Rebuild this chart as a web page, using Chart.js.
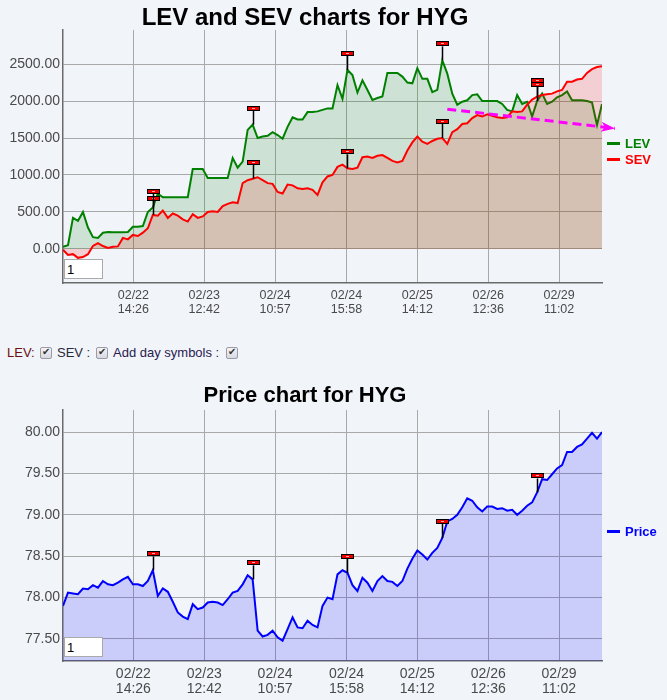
<!DOCTYPE html>
<html>
<head>
<meta charset="utf-8">
<script src="https://cdn.jsdelivr.net/npm/chart.js@4.4.1/dist/chart.umd.min.js"></script>
<style>
  body { margin: 0; background: #f1f4f9; width: 667px; height: 700px; position: relative; overflow: hidden;
         font-family: "Liberation Sans", Arial, sans-serif; }
  .box { position: absolute; left: 0; width: 667px; }
  .leg { position: absolute; left: 607px; font: bold 13px "Liberation Sans", Arial, sans-serif; line-height: 15px; white-space: nowrap; }
  .leg i { display: inline-block; width: 13px; height: 3px; vertical-align: middle; margin: -2px 5px 0 0; }
  .num { position: absolute; left: 64px; width: 35px; height: 18px; border: 1px solid #aaa; background: #fff;
         font: 13px "Liberation Sans", Arial, sans-serif; padding: 0 0 0 2px; box-sizing: content-box; }
  .opt { position: absolute; top: 345px; font: 13px "Liberation Sans", Arial, sans-serif; line-height: 15px; white-space: nowrap; }
  input.cb { position: absolute; top: 347px; width: 12px; height: 12px; margin: 0; appearance: none; -webkit-appearance: none;
             border: 1px solid #9a9aa8; border-radius: 2px; background: linear-gradient(#f4f4f6, #d8d8e0); box-sizing: border-box; }
  input.cb::after { content: "\2714"; position: absolute; left: 1px; top: -2px; font-size: 10px; color: #333; }
</style>
</head>
<body>

<div class="box" style="top:0;height:323px"><canvas id="levChart" width="667" height="323"></canvas></div>
<input class="num" style="top:259px" value="1">
<div class="leg" style="top:136px;color:#008000"><i style="background:#008000"></i>LEV</div>
<div class="leg" style="top:152px;color:#ff0000"><i style="background:#ff0000"></i>SEV</div>

<span class="opt" style="left:7px;color:#6a1010">LEV:</span>
<input type="checkbox" class="cb" style="left:40px" checked>
<span class="opt" style="left:57px;color:#2a2a3a">SEV :</span>
<input type="checkbox" class="cb" style="left:96px" checked>
<span class="opt" style="left:113px;color:#2a2050">Add day symbols :</span>
<input type="checkbox" class="cb" style="left:226px" checked>

<div class="box" style="top:370px;height:330px"><canvas id="priceChart" width="667" height="330"></canvas></div>
<input class="num" style="top:637px" value="1">
<div class="leg" style="top:524px;color:#0000ff"><i style="background:#0000ff"></i>Price</div>

<script>
// データ（サンプル番号ごとの値）
const levValues = [30,50,420,380,500,290,160,150,220,230,
  225,225,225,230,300,300,310,500,560,750,
  700,700,700,700,700,700,1080,1080,1080,960,
  960,960,960,960,1230,1100,1180,1610,1680,1500,
  1520,1530,1580,1540,1490,1650,1780,1750,1750,1850,
  1850,1860,1880,1900,1900,2215,2030,2420,2350,2115,
  2280,2150,2015,2040,2060,2380,2380,2380,2330,2250,
  2240,2445,2300,2300,2120,2150,2550,2370,2100,1950,
  1990,2010,2080,2090,2000,2000,2000,2000,1960,1880,
  1860,2080,1960,1990,1790,2000,2100,1960,1990,2050,
  2080,2130,2010,2010,2010,2000,1980,1675,1960];

const sevValues = [-10,-80,-70,-120,-110,-70,40,80,40,15,
  30,35,150,130,190,175,220,280,460,450,
  520,420,480,450,400,370,470,420,440,500,
  510,500,580,610,630,620,890,930,950,970,
  930,890,880,770,750,870,860,820,810,820,
  800,730,900,980,1000,1110,1140,1090,1080,1100,
  1240,1250,1230,1260,1270,1230,1190,1170,1190,1330,
  1440,1520,1450,1420,1460,1490,1500,1420,1580,1620,
  1690,1700,1770,1810,1790,1820,1800,1780,1770,1780,
  1860,1850,1860,1950,2020,2060,2080,2090,2100,2130,
  2150,2260,2260,2290,2300,2380,2430,2460,2470];

const priceValues = [77.9,78.06,78.05,78.04,78.11,78.1,78.15,78.12,78.2,78.16,
  78.15,78.18,78.22,78.25,78.16,78.16,78.14,78.2,78.33,78.02,
  78.11,78.07,77.95,77.82,77.77,77.74,77.92,77.86,77.88,77.94,
  77.95,77.94,77.91,77.98,78.06,78.08,78.16,78.27,78.22,77.6,
  77.53,77.55,77.6,77.52,77.48,77.62,77.76,77.64,77.63,77.72,
  77.67,77.64,77.9,78.0,77.98,78.28,78.33,78.3,78.15,78.08,
  78.24,78.18,78.08,78.2,78.26,78.2,78.19,78.14,78.2,78.35,
  78.47,78.57,78.52,78.46,78.54,78.6,78.72,78.92,78.95,79.0,
  79.09,79.2,79.17,79.09,79.04,79.1,79.1,79.07,79.08,79.05,
  79.06,79.0,79.05,79.11,79.15,79.27,79.43,79.42,79.49,79.56,
  79.6,79.76,79.76,79.82,79.85,79.92,79.99,79.92,80.0];

// 日の始まり（旗マーク）のサンプル番号
const dayStartIdx = [18, 38, 57, 76, 95];

// トレンド線（破線の矢印）
const trendX = [77, 110.6];
const trendY = [1890, 1630];

// X軸の目盛り（サンプル番号と表示ラベル）
const tickAt = [14.1, 28.3, 42.5, 56.8, 71.0, 85.2, 99.4];
const tickDates = ["02/22", "02/23", "02/24", "02/24", "02/25", "02/26", "02/29"];
const tickTimes = ["14:26", "12:42", "10:57", "15:58", "14:12", "12:36", "11:02"];

const levTicks = [0, 500, 1000, 1500, 2000, 2500];
const priceTicks = [77.5, 78.0, 78.5, 79.0, 79.5, 80.0];

Chart.defaults.font.family = '"Liberation Sans", Arial, sans-serif';
Chart.defaults.color = "#4a4a4a";

const toPoints = (arr) => arr.map((v, i) => ({ x: i, y: v }));

// ✅ 旗マーク描画プラグイン
const dayFlags = {
  id: "dayFlags",
  afterDatasetsDraw(chart, args, opts) {
    const ctx = chart.ctx;
    (opts.sets || []).forEach(di => {
      const meta = chart.getDatasetMeta(di);
      dayStartIdx.forEach(i => {
        const p = meta.data[i];
        if (!p) return;
        const x = Math.round(p.x) + 0.5, y = p.y;
        ctx.save();
        ctx.strokeStyle = "#000";
        ctx.lineWidth = 1.5;
        ctx.beginPath(); ctx.moveTo(x, y); ctx.lineTo(x, y - 14); ctx.stroke();
        ctx.fillStyle = "#ee0000";
        ctx.fillRect(x - 6, Math.round(y) - 18.5, 12, 4);
        ctx.lineWidth = 1;
        ctx.strokeRect(x - 6, Math.round(y) - 18.5, 12, 4);
        ctx.fillStyle = "#ffaaaa";
        ctx.fillRect(x - 1.5, Math.round(y) - 17, 3, 1);
        ctx.restore();
      });
    });
  }
};

// ✅ 矢印の先端
const arrowHead = {
  id: "arrowHead",
  afterDatasetsDraw(chart, args, opts) {
    if (opts.set === undefined) return;
    const pts = chart.getDatasetMeta(opts.set).data;
    const a = pts[pts.length - 2], b = pts[pts.length - 1];
    const ang = Math.atan2(b.y - a.y, b.x - a.x);
    const ctx = chart.ctx;
    ctx.save();
    ctx.translate(b.x, b.y);
    ctx.rotate(ang);
    ctx.fillStyle = "#ff00ff";
    ctx.beginPath();
    ctx.moveTo(0, 0); ctx.lineTo(-14, -5); ctx.lineTo(-10, 0); ctx.lineTo(-14, 5);
    ctx.closePath(); ctx.fill();
    ctx.restore();
  }
};

function xScale(fontSize, lineH, pad, height) {
  return {
    type: "linear", min: 0, max: 108,
    afterBuildTicks: (axis) => { axis.ticks = tickAt.map(v => ({ value: v })); },
    afterFit: (axis) => { axis.height = height; },
    grid: { color: "#a9a9a9", drawTicks: false },
    border: { color: "#6a6a6a", width: 1.5 },
    ticks: {
      autoSkip: false, maxRotation: 0, padding: pad,
      font: { size: fontSize, lineHeight: lineH + "px" },
      callback: (v) => { const k = tickAt.indexOf(v); return k < 0 ? "" : [tickDates[k], tickTimes[k]]; }
    }
  };
}

function yScale(min, max, list) {
  return {
    min: min, max: max,
    afterBuildTicks: (axis) => { axis.ticks = list.map(v => ({ value: v })); },
    afterFit: (axis) => { axis.width = 55; },
    grid: { color: "#a9a9a9", drawTicks: false },
    border: { color: "#6a6a6a", width: 1.5 },
    ticks: { padding: 3, font: { size: 14 }, callback: (v) => Number(v).toFixed(2) }
  };
}

new Chart(document.getElementById("levChart"), {
  type: "line",
  data: {
    datasets: [
      { data: trendX.map((x, i) => ({ x: x, y: trendY[i] })), borderColor: "#ff00ff", borderWidth: 3,
        borderDash: [9, 5], pointRadius: 0, fill: false, clip: false },
      { data: toPoints(sevValues), borderColor: "#ff0000", backgroundColor: "rgba(255,0,0,0.15)",
        borderWidth: 2, pointRadius: 0, fill: "origin", tension: 0 },
      { data: toPoints(levValues), borderColor: "#008000", backgroundColor: "rgba(0,128,0,0.15)",
        borderWidth: 2, pointRadius: 0, fill: "origin", tension: 0 }
    ]
  },
  options: {
    responsive: false, animation: false, devicePixelRatio: 1,
    layout: { padding: { left: 8, right: 65, top: 0, bottom: 0 } },
    plugins: {
      legend: { display: false }, tooltip: { enabled: false },
      title: { display: true, text: "LEV and SEV charts for HYG", color: "#000",
               font: { size: 24, weight: "bold", lineHeight: 1 }, padding: { top: 6.5, bottom: -0.5 } },
      dayFlags: { sets: [1, 2] },
      arrowHead: { set: 0 }
    },
    scales: { x: xScale(12.5, 14, 6, 40), y: yScale(-460, 2960, levTicks) }
  },
  plugins: [dayFlags, arrowHead]
});

new Chart(document.getElementById("priceChart"), {
  type: "line",
  data: {
    datasets: [
      { data: toPoints(priceValues), borderColor: "#0000ff", backgroundColor: "rgba(0,0,255,0.16)",
        borderWidth: 2, pointRadius: 0, fill: "start", tension: 0 }
    ]
  },
  options: {
    responsive: false, animation: false, devicePixelRatio: 1,
    layout: { padding: { left: 8, right: 65, top: 0, bottom: 0 } },
    plugins: {
      legend: { display: false }, tooltip: { enabled: false },
      title: { display: true, text: "Price chart for HYG", color: "#000",
               font: { size: 22, weight: "bold", lineHeight: 1 }, padding: { top: 15, bottom: 3 } },
      dayFlags: { sets: [0] }
    },
    scales: { x: xScale(14, 15, 6, 39), y: yScale(77.234, 80.266, priceTicks) }
  },
  plugins: [dayFlags, arrowHead]
});
</script>
</body>
</html>
